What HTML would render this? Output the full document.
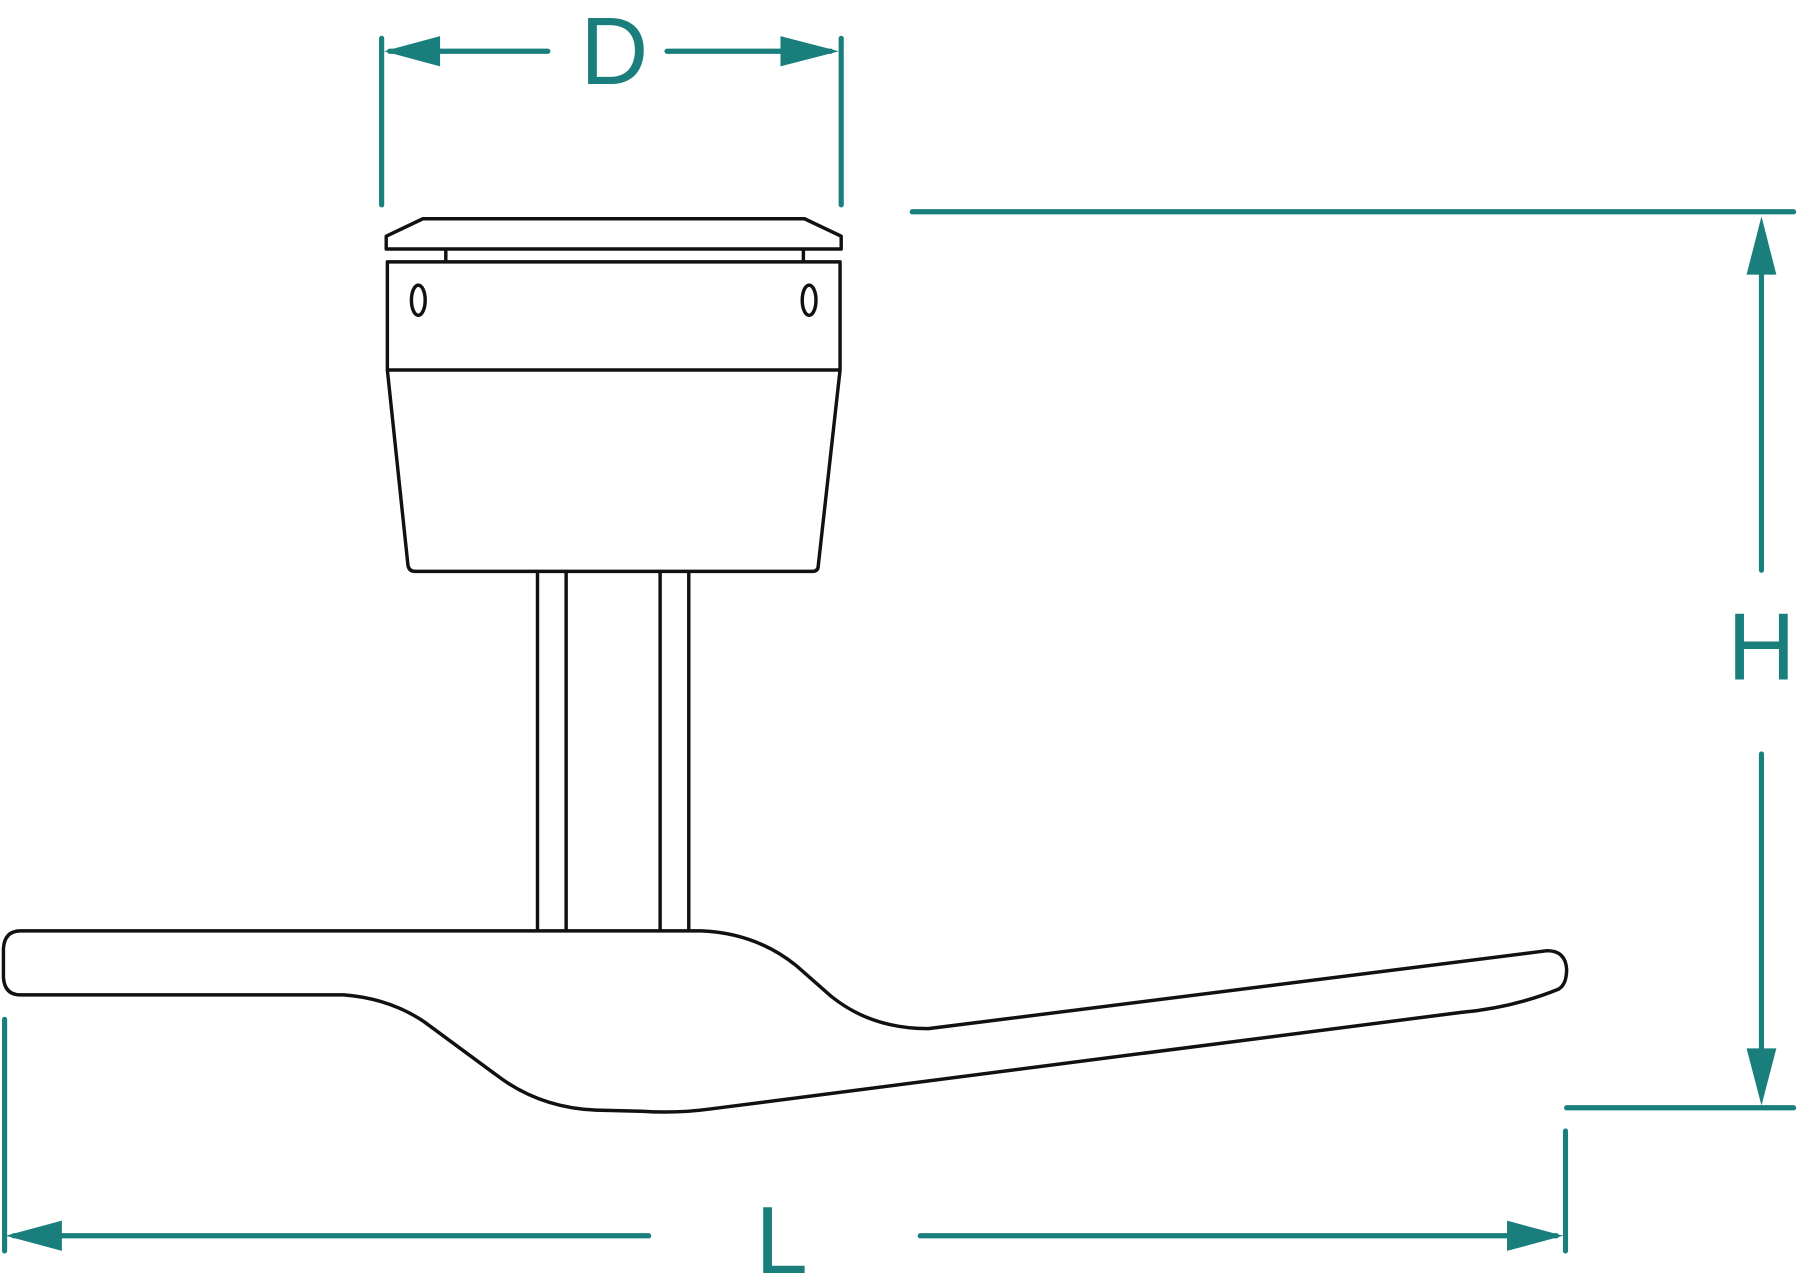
<!DOCTYPE html>
<html><head><meta charset="utf-8"><style>html,body{margin:0;padding:0;background:#fff;}svg{display:block}</style></head>
<body>
<svg width="1797" height="1280" viewBox="0 0 1568 1100" preserveAspectRatio="none" xmlns="http://www.w3.org/2000/svg">
<g stroke="#1a7f7c" stroke-width="4.5" stroke-linecap="round" fill="none">
<line x1="333" y1="33" x2="333" y2="176"/>
<line x1="734" y1="33" x2="734" y2="176"/>
<line x1="340" y1="44" x2="478" y2="44"/>
<line x1="582" y1="44" x2="725" y2="44"/>
<line x1="796" y1="182" x2="1565" y2="182"/>
<line x1="1367" y1="952" x2="1565" y2="952"/>
<line x1="1537" y1="195" x2="1537" y2="490"/>
<line x1="1537" y1="648" x2="1537" y2="940"/>
<line x1="4" y1="876" x2="4" y2="1075"/>
<line x1="1366" y1="972" x2="1366" y2="1075"/>
<line x1="12" y1="1062" x2="566" y2="1062"/>
<line x1="803" y1="1062" x2="1358" y2="1062"/>
</g>
<g fill="#1a7f7c">
<polygon points="335,44 384,31 384,57"/>
<polygon points="732,44 681,31 681,57"/>
<polygon points="1537,186 1524,236 1550,236"/>
<polygon points="1537,950 1524,901 1550,901"/>
<polygon points="5,1062 54,1049 54,1075"/>
<polygon points="1364,1062 1315,1049 1315,1075"/>
</g>
<g fill="#1a7f7c" font-family="Liberation Sans, sans-serif" font-size="82">
<text x="536" y="72" text-anchor="middle">D</text>
<text x="1537" y="584" text-anchor="middle">H</text>
<text x="682" y="1094" text-anchor="middle">L</text>
</g>
<g stroke="#111" stroke-width="3" fill="none" stroke-linejoin="round">
<path d="M337,214 L337,203 L369,188 L702,188 L734,203 L734,214 Z"/>
<line x1="389" y1="214" x2="389" y2="224"/>
<line x1="701" y1="214" x2="701" y2="224"/>
<rect x="338" y="225" width="395" height="93"/>
<ellipse cx="365" cy="258" rx="6" ry="13"/>
<ellipse cx="706" cy="258" rx="6" ry="13"/>
<path d="M338,318 L356,486 Q357,491 362,491 L709,491 Q714,491 714,486 L733,318"/>
<line x1="469" y1="491" x2="469" y2="800"/>
<line x1="494" y1="491" x2="494" y2="800"/>
<line x1="576" y1="491" x2="576" y2="800"/>
<line x1="601" y1="491" x2="601" y2="800"/>
<path d="M18,800 L612,800 Q660,802 695,830 L725,856 Q760,884 810,884 L1350,817 Q1366,817 1367,833 Q1367,846 1360,850 Q1320,866 1275,870 L620,953 Q590,957 560,955 L520,954 Q470,952 432,923 L370,878 Q340,858 300,855 L18,855 Q4,855 3,840 L3,815 Q4,800 18,800 Z"/>
</g>
</svg>
</body></html>
